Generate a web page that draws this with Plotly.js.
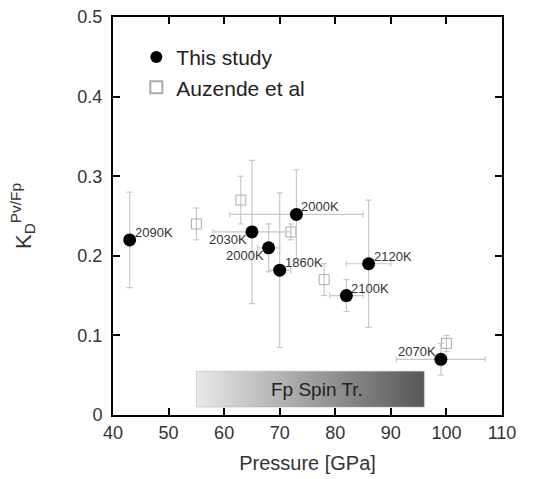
<!DOCTYPE html>
<html><head><meta charset="utf-8">
<script src="https://cdn.plot.ly/plotly-3.0.1.min.js"></script>
<style>body{margin:0;background:#fff}#c{width:535px;height:479px}</style>
</head><body><div id="c"></div>
<script>
// This study
const studyP = [43, 65, 73, 68, 70, 82, 86, 99];
const studyK = [0.22, 0.23, 0.252, 0.21, 0.182, 0.15, 0.19, 0.07];
const studyPerr = [0, 7, 12, 2, 2, 3, 4, 8];
const studyKerr = [0.06, 0.09, 0.056, 0.03, 0.097, 0.02, 0.08, 0.02];
const studyLabels = ["2090K", "2030K", "2000K", "2000K", "1860K", "2100K", "2120K", "2070K"];
const labelPos = ["ur", "ll", "ur", "ll", "ur", "ur", "ur", "ul"];
// Auzende et al
const auzP = [55, 63, 72, 78, 100];
const auzK = [0.24, 0.27, 0.23, 0.17, 0.09];
const auzKerr = [0.02, 0.03, 0.01, 0.02, 0.01];
// Spin transition band
const spinRange = [55, 96];
const spinK = [0.01, 0.055];
const xTicks = [40, 50, 60, 70, 80, 90, 100, 110];
const yTicks = [0, 0.1, 0.2, 0.3, 0.4, 0.5];
const yTickText = ['0', '0.1', '0.2', '0.3', '0.4', '0.5'];

const traces = [
  {
    x: [spinRange[0], spinRange[1], spinRange[1], spinRange[0], spinRange[0]],
    y: [spinK[0], spinK[0], spinK[1], spinK[1], spinK[0]],
    mode: 'lines', fill: 'toself',
    line: {color: '#aaa', width: 0.5},
    fillgradient: {type: 'horizontal', colorscale: [[0, '#e8e8e8'], [1, '#575757']]},
    showlegend: false, hoverinfo: 'skip'
  },
  {
    x: auzP, y: auzK, mode: 'markers', name: 'Auzende et al',
    marker: {symbol: 'square-open', size: 10, color: '#aaa', line: {width: 1}},
    error_y: {type: 'data', array: auzKerr, color: '#c0c0c0', thickness: 1, width: 3}
  },
  {
    x: studyP, y: studyK, mode: 'markers', name: 'This study',
    marker: {symbol: 'circle', size: 13, color: '#000'},
    error_x: {type: 'data', array: studyPerr, color: '#c8c8c8', thickness: 1.2, width: 3},
    error_y: {type: 'data', array: studyKerr, color: '#c8c8c8', thickness: 1.2, width: 3}
  }
];

const annotations = studyLabels.map((t, i) => {
  const p = labelPos[i];
  return {
    x: studyP[i], y: studyK[i], text: t, showarrow: false,
    xanchor: p[1] === 'r' ? 'left' : 'right',
    yanchor: p[0] === 'u' ? 'bottom' : 'top',
    xshift: p[1] === 'r' ? 3 : -3, yshift: p[0] === 'u' ? -2 : 2,
    font: {family: 'Liberation Sans, Arial, sans-serif', size: 13, color: '#333'}
  };
});
annotations.push({
  x: (spinRange[0] + spinRange[1]) / 2 + 1.2, y: (spinK[0] + spinK[1]) / 2,
  text: 'Fp Spin Tr.', showarrow: false,
  font: {family: 'Liberation Sans, Arial, sans-serif', size: 19, color: '#222'}
});

const layout = {
  width: 535, height: 479,
  margin: {l: 113, r: 33, t: 17, b: 64},
  paper_bgcolor: '#fff', plot_bgcolor: '#fff',
  font: {family: 'Liberation Sans, Arial, sans-serif', color: '#333', size: 18},
  showlegend: true,
  legend: {x: 0.06, y: 0.95, xanchor: 'left', yanchor: 'top', traceorder: 'reversed',
           font: {size: 21, color: '#222'}, bgcolor: 'rgba(0,0,0,0)', itemsizing: 'constant'},
  xaxis: {range: [40, 110], tickvals: xTicks, ticks: 'inside', ticklen: 7, tickwidth: 2,
          tickcolor: '#000', showline: true, linecolor: '#000', linewidth: 2, mirror: 'ticks',
          showgrid: false, zeroline: false,
          title: {text: 'Pressure [GPa]', font: {size: 20}, standoff: 14}},
  yaxis: {range: [0, 0.5], tickvals: yTicks, ticktext: yTickText,
          ticks: 'inside', ticklen: 7, tickwidth: 2, ticklabelstandoff: 5,
          tickcolor: '#000', showline: true, linecolor: '#000', linewidth: 2, mirror: 'ticks',
          showgrid: false, zeroline: false,
          title: {text: 'K<sub>D</sub><sup>Pv/Fp</sup>', font: {size: 22}, standoff: 40}},
  annotations: annotations
};
Plotly.newPlot('c', traces, layout, {staticPlot: true});
</script></body></html>
